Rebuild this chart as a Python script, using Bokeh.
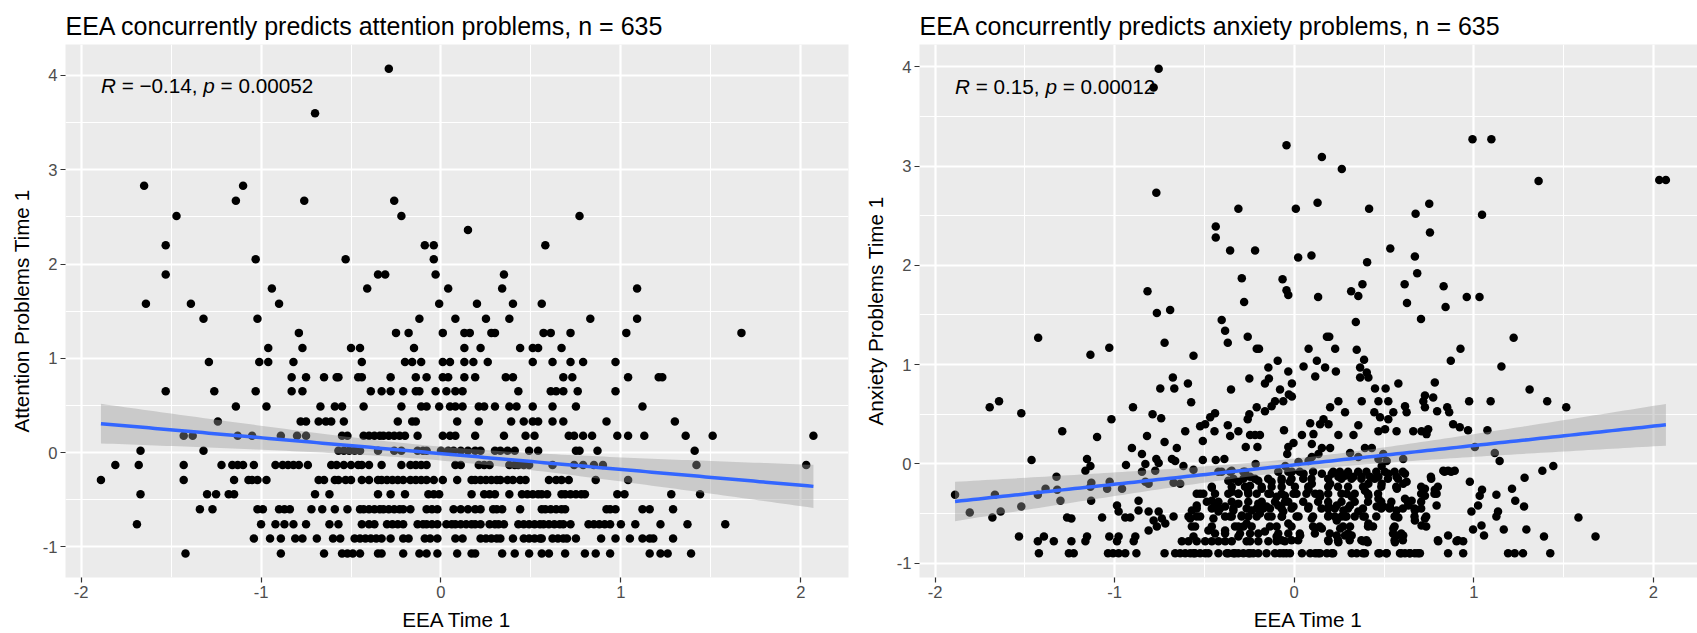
import numpy as np
from bokeh.plotting import figure
from bokeh.layouts import row
from bokeh.models import Range1d, FixedTicker, Label
from bokeh.embed import file_html
from bokeh.resources import INLINE

# ---------------- text ----------------
att_title = "EEA concurrently predicts attention problems, n = 635"
anx_title = "EEA concurrently predicts anxiety problems, n = 635"
x_label = "EEA Time 1"
att_ylabel = "Attention Problems Time 1"
anx_ylabel = "Anxiety Problems Time 1"
x_ticks = [-2, -1, 0, 1, 2]
x_minor = [-1.5, -0.5, 0.5, 1.5]
y_ticks = [-1, 0, 1, 2, 3, 4]
y_minor = [-0.5, 0.5, 1.5, 2.5, 3.5]

att_stat_r, att_stat_p = "\u22120.14", "0.00052"
anx_stat_r, anx_stat_p = "0.15", "0.00012"

# fitted lines (intercept, slope)
att_fit = (-0.01, -0.168)
anx_fit = (-0.01, 0.195)

# ---------------- attention data: discrete score levels and EEA values ----------------
att_levels = [-1.07, -0.91, -0.76, -0.60, -0.44, -0.29, -0.13, 0.02, 0.18, 0.33, 0.49, 0.65,
              0.80, 0.96, 1.11, 1.27, 1.42, 1.58, 1.74, 1.89, 2.05, 2.20, 2.36, 2.51, 2.67,
              2.83, 3.60, 4.07]
att_rows = [
    [-1.42, -0.89, -0.65, -0.55, -0.52, -0.49, -0.45, -0.35, -0.33, -0.21, -0.12, -0.08, -0.02, 0.09, 0.17, 0.19, 0.34, 0.41, 0.49, 0.56, 0.60, 0.69, 0.80, 0.86, 0.94, 1.16, 1.22, 1.26, 1.39],
    [-1.04, -0.95, -0.89, -0.81, -0.77, -0.69, -0.60, -0.56, -0.48, -0.45, -0.42, -0.39, -0.36, -0.33, -0.28, -0.21, -0.18, -0.09, -0.06, -0.02, 0.08, 0.12, 0.22, 0.25, 0.28, 0.31, 0.33, 0.40, 0.46, 0.49, 0.52, 0.55, 0.56, 0.62, 0.65, 0.68, 0.70, 0.75, 0.89, 0.97, 1.05, 1.12, 1.16, 1.18, 1.29],
    [-1.69, -1.00, -0.92, -0.87, -0.82, -0.75, -0.62, -0.57, -0.44, -0.40, -0.37, -0.30, -0.27, -0.24, -0.21, -0.13, -0.10, -0.08, -0.05, -0.02, 0.03, 0.06, 0.08, 0.11, 0.14, 0.17, 0.19, 0.22, 0.27, 0.30, 0.32, 0.35, 0.43, 0.46, 0.49, 0.52, 0.55, 0.57, 0.60, 0.63, 0.66, 0.68, 0.72, 0.82, 0.85, 0.88, 0.91, 0.94, 1.00, 1.08, 1.22, 1.37, 1.58],
    [-1.34, -1.27, -1.02, -0.99, -0.90, -0.87, -0.84, -0.72, -0.66, -0.59, -0.52, -0.45, -0.43, -0.40, -0.37, -0.34, -0.32, -0.29, -0.26, -0.23, -0.21, -0.17, -0.08, -0.05, -0.02, 0.07, 0.11, 0.15, 0.19, 0.22, 0.29, 0.31, 0.34, 0.44, 0.56, 0.58, 0.61, 0.64, 0.67, 0.69, 0.92, 0.94, 0.97, 1.12, 1.16, 1.29],
    [-1.67, -1.30, -1.25, -1.18, -1.15, -0.70, -0.62, -0.35, -0.28, -0.20, -0.07, -0.04, -0.01, 0.17, 0.24, 0.27, 0.30, 0.38, 0.45, 0.48, 0.51, 0.54, 0.56, 0.59, 0.67, 0.69, 0.72, 0.75, 0.78, 0.80, 0.98, 1.02, 1.28, 1.44],
    [-1.89, -1.43, -1.15, -1.07, -1.05, -1.02, -0.97, -0.68, -0.65, -0.59, -0.57, -0.53, -0.50, -0.44, -0.40, -0.35, -0.33, -0.30, -0.27, -0.24, -0.21, -0.17, -0.14, -0.11, -0.08, -0.04, 0.01, 0.09, 0.17, 0.19, 0.22, 0.25, 0.28, 0.31, 0.33, 0.37, 0.40, 0.44, 0.47, 0.60, 0.64, 0.67, 0.71, 0.86, 1.04],
    [-1.81, -1.68, -1.43, -1.22, -1.16, -1.13, -1.10, -1.04, -0.92, -0.88, -0.85, -0.82, -0.79, -0.74, -0.61, -0.58, -0.54, -0.50, -0.46, -0.44, -0.40, -0.33, -0.22, -0.17, -0.14, -0.11, -0.08, 0.08, 0.11, 0.21, 0.24, 0.27, 0.38, 0.41, 0.43, 0.46, 0.49, 0.62, 0.74, 0.79, 0.85, 0.90, 1.42, 2.03],
    [-1.67, -1.32, -0.57, -0.54, -0.51, -0.48, -0.45, -0.35, -0.26, -0.22, -0.13, -0.10, -0.08, 0.00, 0.04, 0.07, 0.11, 0.15, 0.19, 0.22, 0.30, 0.33, 0.37, 0.41, 0.49, 0.54, 0.75, 0.77, 0.87, 1.41],
    [-1.43, -1.38, -1.13, -1.05, -0.89, -0.80, -0.75, -0.55, -0.52, -0.43, -0.40, -0.37, -0.34, -0.32, -0.29, -0.26, -0.23, -0.20, -0.13, 0.01, 0.05, 0.08, 0.19, 0.35, 0.47, 0.52, 0.71, 0.74, 0.79, 0.84, 0.98, 1.04, 1.13, 1.36, 1.51, 2.07],
    [-1.24, -0.78, -0.75, -0.68, -0.64, -0.61, -0.54, -0.24, -0.16, -0.14, 0.09, 0.21, 0.39, 0.46, 0.51, 0.54, 0.62, 0.68, 0.92, 1.30],
    [-1.14, -0.97, -0.67, -0.59, -0.55, -0.43, -0.22, -0.11, -0.08, -0.01, 0.05, 0.08, 0.12, 0.21, 0.24, 0.30, 0.38, 0.42, 0.51, 0.62, 0.75, 1.12],
    [-1.53, -1.26, -1.03, -0.83, -0.77, -0.39, -0.33, -0.28, -0.21, -0.14, -0.12, -0.03, 0.03, 0.08, 0.12, 0.43, 0.61, 0.64, 0.68, 0.76, 0.97],
    [-0.83, -0.75, -0.65, -0.58, -0.57, -0.46, -0.44, -0.28, -0.14, -0.08, 0.01, 0.04, 0.13, 0.19, 0.36, 0.40, 0.68, 0.73, 1.04, 1.21, 1.23],
    [-1.29, -1.01, -0.96, -0.82, -0.44, -0.20, -0.16, -0.11, 0.01, 0.05, 0.13, 0.18, 0.26, 0.51, 0.62, 0.72, 0.79, 0.97],
    [-0.96, -0.77, -0.50, -0.45, -0.15, 0.13, 0.22, 0.44, 0.51, 0.54, 0.67],
    [-0.79, -0.25, -0.18, 0.01, 0.13, 0.16, 0.28, 0.30, 0.57, 0.61, 0.72, 1.03, 1.67],
    [-1.32, -1.02, -0.12, 0.08, 0.25, 0.38, 0.83, 1.09],
    [-1.64, -1.39, -0.90, -0.01, 0.20, 0.40, 0.56],
    [-0.94, -0.41, 0.04, 0.34, 1.09],
    [-1.53, -0.35, -0.31, -0.03, 0.35],
    [-1.03, -0.53, -0.04],
    [-1.53, -0.09, -0.04, 0.58],
    [0.15],
    [-1.47, -0.22, 0.77],
    [-1.14, -0.76, -0.26],
    [-1.65, -1.10],
    [-0.70],
    [-0.29],
]

# ---------------- anxiety data: (EEA, anxiety) pairs ----------------
anx_high = [(-0.755, 3.98), (-0.783, 3.79), (-0.768, 2.73), (-0.043, 3.21), (-0.311, 2.57),
            (-0.437, 2.39), (-0.437, 2.28), (-0.357, 2.15), (-0.218, 2.15), (-0.292, 1.87),
            (-0.065, 1.86), (-0.043, 1.75), (-0.033, 1.70), (-0.279, 1.63), (-0.817, 1.74),
            (-0.765, 1.52), (-0.691, 1.55), (-0.404, 1.45),
            (0.154, 3.09), (0.265, 2.97), (0.993, 3.27), (1.098, 3.27), (1.361, 2.85),
            (2.033, 2.86), (2.070, 2.86), (0.009, 2.57), (0.130, 2.63), (0.417, 2.57),
            (0.676, 2.52), (0.752, 2.62), (1.046, 2.51), (0.756, 2.33), (0.535, 2.17),
            (0.022, 2.08), (0.096, 2.10), (0.406, 2.03), (0.672, 2.09), (0.685, 1.92),
            (0.133, 1.68), (0.317, 1.74), (0.357, 1.69), (0.380, 1.81), (0.615, 1.81),
            (0.628, 1.62), (0.832, 1.79), (0.843, 1.58), (0.961, 1.68), (1.032, 1.68),
            (0.343, 1.43), (0.706, 1.46)]
anx_left = [(-0.385, 1.34), (-0.370, 1.22), (-0.259, 1.28), (-0.209, 1.16), (-0.196, 1.16),
            (-0.722, 1.22), (-1.426, 1.27), (-1.135, 1.10), (-1.030, 1.17), (-0.561, 1.09),
            (-0.092, 1.04), (-0.144, 0.97), (-0.033, 0.93), (-0.676, 0.87), (-0.250, 0.86),
            (-0.141, 0.86), (-0.163, 0.81), (-0.592, 0.81), (-0.746, 0.76), (-0.668, 0.76),
            (-0.352, 0.75), (-0.079, 0.75), (-0.030, 0.70), (-1.696, 0.57), (-1.644, 0.63),
            (-1.520, 0.51), (-0.898, 0.57), (-0.574, 0.62), (-0.209, 0.57), (-0.163, 0.53),
            (-0.126, 0.58), (-0.107, 0.63), (-0.061, 0.63), (-0.250, 0.50), (-0.259, 0.45),
            (-0.789, 0.50), (-0.741, 0.46), (-1.018, 0.45), (-0.441, 0.51), (-0.468, 0.47),
            (-0.496, 0.40), (-0.524, 0.38), (-0.370, 0.39), (-0.444, 0.33), (-0.311, 0.33),
            (-0.057, 0.34), (-0.607, 0.33), (-1.292, 0.33), (-1.098, 0.27), (-0.820, 0.28),
            (-0.357, 0.28), (-0.246, 0.29), (-0.218, 0.29), (-0.191, 0.29), (-0.509, 0.23),
            (-0.722, 0.22), (-0.904, 0.16), (-0.654, 0.16), (-0.270, 0.17), (-0.205, 0.17),
            (-0.033, 0.17), (-0.848, 0.10), (-1.463, 0.04), (-1.154, 0.05), (-0.768, 0.05),
            (-0.681, 0.05), (-0.509, 0.04), (-0.437, 0.04), (-0.389, 0.05), (-0.039, 0.10),
            (-1.135, -0.02), (-1.163, -0.07), (-0.937, -0.01), (-0.829, 0.00), (-0.755, 0.01),
            (-0.663, 0.03), (-0.617, -0.02), (-0.215, 0.00), (-0.848, -0.08), (-0.774, -0.07),
            (-0.561, -0.06), (-0.422, -0.08), (-0.348, -0.07), (-0.283, -0.08), (-0.246, -0.13),
            (-1.324, -0.13), (-1.028, -0.18), (-1.130, -0.19), (-1.385, -0.25), (-1.320, -0.26),
            (-1.042, -0.25), (-0.959, -0.25), (-0.829, -0.18), (-0.811, -0.20), (-0.672, -0.19),
            (-0.635, -0.20), (-0.367, -0.17), (-0.311, -0.18), (-0.246, -0.22), (-0.200, -0.17),
            (-0.126, -0.18), (-0.070, -0.17), (-0.024, -0.18), (-1.135, -0.23), (-1.889, -0.31),
            (-1.667, -0.31), (-1.428, -0.31), (-1.302, -0.37), (-1.131, -0.37), (-0.867, -0.37),
            (-0.524, -0.30), (-0.459, -0.24), (-0.348, -0.28), (-0.311, -0.30), (-0.257, -0.28),
            (-0.181, -0.25), (-0.144, -0.30), (-0.098, -0.33), (-0.052, -0.32), (-1.807, -0.49),
            (-1.635, -0.48), (-1.520, -0.43), (-1.681, -0.54), (-1.265, -0.54), (-1.241, -0.55),
            (-1.070, -0.54), (-0.987, -0.42), (-0.978, -0.48), (-0.941, -0.54), (-0.913, -0.54),
            (-0.867, -0.47), (-0.811, -0.48), (-0.755, -0.48), (-0.783, -0.57), (-0.737, -0.55),
            (-0.718, -0.60), (-0.672, -0.53), (-0.765, -0.63), (-0.811, -0.67), (-0.570, -0.47),
            (-0.543, -0.42), (-0.579, -0.55), (-0.524, -0.53), (-0.570, -0.63), (-0.459, -0.37),
            (-0.441, -0.42), (-0.422, -0.48), (-0.450, -0.55), (-0.385, -0.43), (-0.357, -0.53),
            (-0.339, -0.47), (-0.311, -0.40), (-0.292, -0.52), (-0.265, -0.60), (-0.237, -0.47),
            (-0.200, -0.40), (-0.191, -0.50), (-0.154, -0.43), (-0.126, -0.53), (-0.089, -0.42),
            (-0.061, -0.48), (-0.033, -0.38), (-0.098, -0.63), (-0.033, -0.60), (-0.311, -0.63),
            (-0.385, -0.67), (-0.478, -0.67), (-0.163, -0.68), (-1.533, -0.73), (-1.394, -0.73),
            (-1.428, -0.78), (-1.339, -0.78), (-1.241, -0.78), (-1.154, -0.73), (-1.163, -0.78),
            (-1.030, -0.73), (-0.978, -0.73), (-0.987, -0.78), (-0.885, -0.73), (-0.894, -0.78),
            (-0.626, -0.78), (-0.589, -0.78), (-0.543, -0.78), (-0.496, -0.78), (-0.459, -0.78),
            (-0.422, -0.78), (-0.385, -0.78), (-0.348, -0.78), (-0.265, -0.78), (-0.246, -0.78),
            (-0.200, -0.78), (-0.144, -0.78), (-0.098, -0.78), (-0.052, -0.78),
            (-0.561, -0.73), (-0.311, -0.73), (-0.098, -0.73)]
anx_right = [(1.222, 1.27), (0.182, 1.28), (0.195, 1.28), (0.080, 1.16), (0.228, 1.16),
             (0.348, 1.15), (0.926, 1.16), (0.126, 1.04), (0.389, 1.05), (0.872, 1.04),
             (0.052, 0.98), (0.172, 0.97), (0.367, 0.97), (1.154, 0.98), (0.117, 0.88),
             (0.232, 0.93), (0.404, 0.92), (0.367, 0.87), (0.413, 0.87), (-0.013, 0.81),
             (0.580, 0.81), (0.783, 0.82), (0.450, 0.76), (0.509, 0.76), (1.311, 0.75),
             (-0.013, 0.68), (0.728, 0.69), (0.774, 0.67), (0.246, 0.63), (0.376, 0.63),
             (0.469, 0.63), (0.524, 0.63), (0.719, 0.63), (0.974, 0.63), (1.094, 0.63),
             (1.409, 0.63), (1.515, 0.57), (0.200, 0.57), (0.617, 0.58), (0.852, 0.57),
             (0.728, 0.57), (0.283, 0.52), (0.446, 0.52), (0.552, 0.52), (0.626, 0.52),
             (0.796, 0.53), (0.863, 0.52), (0.163, 0.45), (0.478, 0.47), (0.524, 0.45),
             (0.089, 0.41), (0.144, 0.40), (0.191, 0.40), (0.357, 0.39), (0.885, 0.40),
             (0.922, 0.37), (0.968, 0.34), (1.076, 0.34), (0.469, 0.33), (0.506, 0.35),
             (0.570, 0.33), (0.663, 0.33), (0.709, 0.33), (0.746, 0.35), (0.737, 0.30),
             (0.043, 0.29), (0.107, 0.30), (0.246, 0.29), (0.330, 0.29), (-0.004, 0.21),
             (0.098, 0.20), (0.154, 0.16), (0.200, 0.16), (0.394, 0.16), (0.432, 0.16),
             (1.006, 0.17), (0.311, 0.11), (0.496, 0.10), (0.098, 0.07), (0.135, 0.10),
             (1.117, 0.11), (1.144, 0.03), (0.357, 0.07), (0.469, 0.05), (0.515, 0.03),
             (0.607, 0.05), (-0.050, -0.02), (0.024, 0.02), (0.080, 0.03), (0.487, -0.02),
             (0.830, -0.07), (0.857, -0.07), (0.894, -0.07), (1.382, -0.07), (1.443, -0.02),
             (-0.013, -0.08), (0.052, -0.10), (0.154, -0.10), (0.209, -0.10), (0.246, -0.13),
             (0.283, -0.12), (0.330, -0.13), (0.376, -0.13), (0.422, -0.13), (0.469, -0.13),
             (0.524, -0.10), (0.570, -0.13), (0.617, -0.10), (1.283, -0.14), (0.761, -0.13),
             (0.978, -0.18), (0.626, -0.18), (0.098, -0.20), (0.200, -0.20), (0.413, -0.20),
             (0.487, -0.20), (0.572, -0.25), (0.607, -0.20), (0.728, -0.25), (0.783, -0.26),
             (1.046, -0.26), (1.213, -0.25), (1.126, -0.31), (-0.004, -0.30), (0.080, -0.26),
             (0.117, -0.30), (0.144, -0.33), (0.293, -0.30), (0.320, -0.33), (0.394, -0.27),
             (0.413, -0.32), (0.469, -0.35), (0.617, -0.35), (0.654, -0.37), (0.728, -0.32),
             (0.793, -0.30), (1.033, -0.32), (1.231, -0.37), (-0.004, -0.43), (0.080, -0.43),
             (0.191, -0.43), (0.237, -0.42), (0.274, -0.47), (0.311, -0.42), (0.357, -0.48),
             (0.459, -0.43), (0.496, -0.43), (0.533, -0.43), (0.570, -0.47), (0.635, -0.42),
             (0.672, -0.47), (0.793, -0.42), (1.024, -0.42), (1.280, -0.43), (0.987, -0.48),
             (1.135, -0.48), (1.126, -0.53), (1.583, -0.54), (-0.068, -0.53), (0.024, -0.53),
             (0.098, -0.55), (0.191, -0.52), (0.237, -0.57), (0.283, -0.53), (0.385, -0.53),
             (0.413, -0.60), (0.580, -0.54), (0.672, -0.57), (0.728, -0.55), (0.709, -0.62),
             (1.043, -0.62), (0.117, -0.65), (0.154, -0.65), (0.256, -0.65), (0.311, -0.63),
             (0.552, -0.65), (0.996, -0.66), (1.167, -0.66), (1.293, -0.66), (0.033, -0.72),
             (0.237, -0.72), (0.283, -0.72), (0.320, -0.72), (0.570, -0.72), (0.607, -0.72),
             (0.857, -0.72), (1.057, -0.72), (1.391, -0.73), (1.678, -0.73), (0.191, -0.78),
             (0.246, -0.79), (0.385, -0.78), (0.409, -0.79), (0.561, -0.79), (0.802, -0.78),
             (0.904, -0.78), (0.941, -0.78)]
# dense centre of the cloud (EEA -0.6 .. 0.9, anxiety -0.9 .. -0.05)
anx_dense = [(-0.070, -0.77), (-0.015, -0.77), (0.022, -0.77), (0.189, -0.77), (0.244, -0.77),
             (0.309, -0.77), (0.374, -0.77), (0.402, -0.77), (0.559, -0.77), (0.605, -0.77),
             (0.800, -0.77), (0.911, -0.77),
             (-0.441, -0.70), (-0.385, -0.70), (-0.302, -0.70), (-0.246, -0.70), (-0.200, -0.70),
             (-0.089, -0.70), (-0.033, -0.70), (0.031, -0.70), (0.115, -0.70), (0.198, -0.70),
             (0.300, -0.70), (0.550, -0.70), (0.596, -0.70),
             (-0.552, -0.63), (-0.459, -0.63), (-0.330, -0.63), (-0.283, -0.63), (-0.237, -0.63),
             (-0.135, -0.63), (-0.015, -0.63), (0.105, -0.63), (0.142, -0.63), (0.272, -0.63),
             (0.411, -0.63), (0.439, -0.63), (0.559, -0.63), (0.735, -0.63),
             (-0.589, -0.53), (-0.543, -0.53), (-0.385, -0.53), (-0.348, -0.53), (-0.293, -0.53),
             (-0.256, -0.53), (-0.209, -0.53), (-0.145, -0.53), (-0.070, -0.53), (0.013, -0.53),
             (0.105, -0.53), (0.189, -0.53), (0.226, -0.53), (0.263, -0.53), (0.291, -0.53),
             (0.337, -0.53), (0.393, -0.53), (0.457, -0.53), (0.559, -0.53), (0.670, -0.53),
             (0.735, -0.53),
             (-0.543, -0.45), (-0.459, -0.45), (-0.413, -0.45), (-0.339, -0.45), (-0.265, -0.45),
             (-0.209, -0.45), (-0.172, -0.45), (-0.135, -0.45), (-0.070, -0.45), (-0.015, -0.45),
             (0.078, -0.45), (0.152, -0.45), (0.189, -0.45), (0.226, -0.45), (0.300, -0.45),
             (0.383, -0.45), (0.485, -0.45), (0.531, -0.45), (0.605, -0.45), (0.670, -0.45),
             (0.707, -0.45),
             (-0.487, -0.38), (-0.422, -0.38), (-0.348, -0.38), (-0.256, -0.38), (-0.181, -0.38),
             (-0.107, -0.38), (-0.052, -0.38), (0.050, -0.38), (0.133, -0.38), (0.189, -0.38),
             (0.263, -0.38), (0.337, -0.38), (0.411, -0.38), (0.485, -0.38), (0.541, -0.38),
             (0.633, -0.38), (0.707, -0.38),
             (-0.543, -0.30), (-0.506, -0.30), (-0.441, -0.30), (-0.367, -0.30), (-0.311, -0.30),
             (-0.256, -0.30), (-0.209, -0.30), (-0.135, -0.30), (-0.070, -0.30), (0.013, -0.30),
             (0.068, -0.30), (0.142, -0.30), (0.189, -0.30), (0.263, -0.30), (0.337, -0.30),
             (0.411, -0.30), (0.467, -0.30), (0.707, -0.30), (0.781, -0.30),
             (-0.459, -0.23), (-0.348, -0.23), (-0.274, -0.23), (-0.181, -0.23), (-0.126, -0.23),
             (-0.070, -0.23), (0.004, -0.23), (0.078, -0.23), (0.189, -0.23), (0.244, -0.23),
             (0.300, -0.23), (0.383, -0.23), (0.485, -0.23), (0.568, -0.23), (0.707, -0.23),
             (0.800, -0.23),
             (-0.339, -0.15), (-0.283, -0.15), (-0.219, -0.15), (-0.145, -0.15), (-0.070, -0.15),
             (-0.015, -0.15), (0.050, -0.15), (0.096, -0.15), (0.189, -0.15), (0.263, -0.15),
             (0.319, -0.15), (0.374, -0.15), (0.448, -0.15), (0.522, -0.15), (0.578, -0.15),
             (0.763, -0.15),
             (-0.404, -0.08), (-0.357, -0.08), (-0.274, -0.08), (-0.089, -0.08), (-0.033, -0.08),
             (0.031, -0.08), (0.105, -0.08), (0.217, -0.08), (0.254, -0.08), (0.300, -0.08),
             (0.356, -0.08), (0.402, -0.08), (0.457, -0.08), (0.504, -0.08), (0.559, -0.08),
             (0.605, -0.08), (0.837, -0.08), (0.874, -0.08)]
anx_floor_level = -0.90
anx_floor_x = [-1.422, -1.255, -1.228, -1.037, -1.009, -0.978, -0.941, -0.879, -0.722, -0.663,
               -0.635, -0.607, -0.579, -0.552, -0.524, -0.496, -0.422, -0.367, -0.339, -0.311,
               -0.283, -0.255, -0.228, -0.200, -0.154, -0.107, -0.080, -0.044, 0.043, 0.089,
               0.117, 0.144, 0.182, 0.209, 0.320, 0.348, 0.394, 0.469, 0.515, 0.589, 0.617,
               0.644, 0.672, 0.700, 0.857, 0.941, 1.191, 1.228, 1.274, 1.426,
               -0.561, -0.478, -0.376, -0.330, -0.246, -0.061, -0.024, 0.133, 0.217, 0.383,
               0.476, 0.513, 0.596, 0.643, 0.689]

# ---------------- build arrays ----------------
att_x = [x for lvl, xs in zip(att_levels, att_rows) for x in xs]
att_y = [lvl for lvl, xs in zip(att_levels, att_rows) for _ in xs]
anx_pairs = anx_high + anx_left + anx_right + anx_dense
anx_x = [p[0] for p in anx_pairs] + anx_floor_x
anx_y = [p[1] for p in anx_pairs] + [anx_floor_level] * len(anx_floor_x)

FONT = "Liberation Sans"
FIG_H = 633


def ci_band(x, y, fit):
    x = np.asarray(x, float)
    y = np.asarray(y, float)
    a, b = fit
    n = len(x)
    xm = x.mean()
    sxx = ((x - xm) ** 2).sum()
    s = np.sqrt(((y - (a + b * x)) ** 2).sum() / (n - 2))
    xs = np.linspace(x.min(), x.max(), 120)
    yh = a + b * xs
    hw = 1.964 * s * np.sqrt(1.0 / n + (xs - xm) ** 2 / sxx)
    return xs, yh, yh - hw, yh + hw


def panel(title, ylabel, xs, ys, fit, stat_r, stat_p, p_off, label_y, xr, yr, width, bl, br):
    p = figure(width=width, height=FIG_H, x_range=Range1d(*xr), y_range=Range1d(*yr),
               output_backend="svg", toolbar_location=None,
               min_border_left=bl, min_border_right=br, min_border_top=44, min_border_bottom=53)
    p.background_fill_color = "#EBEBEB"
    p.border_fill_color = "white"
    p.outline_line_color = None

    p.title.text = title
    p.title.text_font = FONT
    p.title.text_font_size = "25px"
    p.title.text_font_style = "normal"
    p.title.text_color = "black"
    p.title.align = "left"
    p.title.offset = 0
    p.title.standoff = 10

    p.xaxis.ticker = FixedTicker(ticks=x_ticks, minor_ticks=x_minor)
    p.yaxis.ticker = FixedTicker(ticks=y_ticks, minor_ticks=y_minor)
    p.xaxis.major_label_overrides = {t: str(t) for t in x_ticks}
    p.yaxis.major_label_overrides = {t: str(t) for t in y_ticks}
    p.xaxis.axis_label = x_label
    p.yaxis.axis_label = ylabel
    for ax in (p.xaxis[0], p.yaxis[0]):
        ax.axis_line_color = None
        ax.major_tick_line_color = "#333333"
        ax.major_tick_line_width = 1.2
        ax.major_tick_out = 5
        ax.major_tick_in = 0
        ax.minor_tick_line_color = None
        ax.major_label_text_font = FONT
        ax.major_label_text_font_size = "16.6px"
        ax.major_label_text_color = "#4D4D4D"
        ax.major_label_text_line_height = 1.0
        ax.major_label_standoff = 3
        ax.axis_label_text_font = FONT
        ax.axis_label_text_font_size = "20.7px"
        ax.axis_label_text_font_style = "normal"
        ax.axis_label_text_color = "black"
        ax.axis_label_text_line_height = 1.0
        ax.axis_label_standoff = 7
    for g in (p.xgrid[0], p.ygrid[0]):
        g.grid_line_color = "white"
        g.grid_line_width = 2.2
        g.minor_grid_line_color = "white"
        g.minor_grid_line_width = 1.1

    p.scatter(xs, ys, size=8.5, color="black", line_width=0)

    bx, by, lo, hi = ci_band(xs, ys, fit)
    p.varea(x=bx, y1=lo, y2=hi, fill_color="#999999", fill_alpha=0.4)
    p.line(bx, by, line_color="#3366FF", line_width=3.5)

    x0 = float(min(xs))
    segs = [("R", "italic", 0.0),
            ("= " + stat_r + ",", "normal", 20.7),
            ("p", "italic", p_off),
            ("= " + stat_p, "normal", p_off + 17.25)]
    for txt, style, off in segs:
        p.add_layout(Label(x=x0, y=label_y, text=txt, x_offset=off,
                           text_font=FONT, text_font_size="20.7px",
                           text_font_style=style, text_color="black",
                           text_baseline="middle", text_align="left"))
    return p


p1 = panel(att_title, att_ylabel, att_x, att_y, att_fit, att_stat_r, att_stat_p,
           102.4, 3.89, (-2.087, 2.265), (-1.324, 4.328), 860, 65, 12)
p2 = panel(anx_title, anx_ylabel, anx_x, anx_y, anx_fit, anx_stat_r, anx_stat_p,
           90.35, 3.80, (-2.087, 2.246), (-1.144, 4.224), 837, 58, 0)

layout = row(p1, p2)
open("out.html", "w").write(file_html(layout, INLINE))
